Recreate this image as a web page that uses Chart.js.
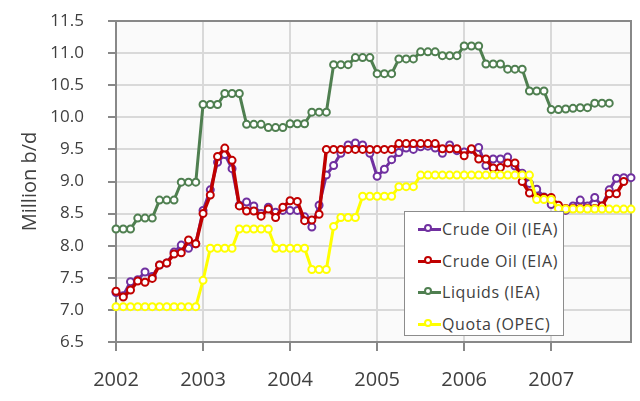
<!DOCTYPE html>
<html>
<head>
<meta charset="utf-8">
<script src="https://cdn.jsdelivr.net/npm/chart.js@4.4.1/dist/chart.umd.min.js"></script>
<style>
  body { margin: 0; background: #fff; }
  #wrap { position: relative; width: 640px; height: 401px; }
  #legend {
    position: absolute; left: 404px; top: 211px; width: 158px; height: 123px;
    background: #fff; border: 1.5px solid #8c8c8c;
    font-family: "Open Sans", sans-serif; font-size: 16px; color: #404040;
    letter-spacing: 0.6px;
  }
  .item { position: absolute; left: 13px; height: 20px; display: flex; align-items: center; white-space: nowrap; }
  .swatch { position: relative; width: 23px; height: 3px; margin-right: 1px; }
  .swatch i {
    position: absolute; left: 6px; top: -4px; width: 8px; height: 8px;
    border-radius: 50%; background: #fff; border: 2px solid; box-sizing: border-box;
  }
</style>
</head>
<body>
<div id="wrap">
  <canvas id="chart" width="640" height="401"></canvas>
  <div id="legend"></div>
</div>
<script>
// monthly, Jan 2002 .. Dec 2007
const years = [2002, 2003, 2004, 2005, 2006, 2007];
const months = [];
years.forEach(y => { for (let m = 1; m <= 12; m++) months.push(y + "-" + m); });

const crudeIEA = [
  7.27, 7.22, 7.44, 7.47, 7.59, 7.52, 7.70, 7.73, 7.90, 8.01, 7.96, 8.03,
  8.55, 8.87, 9.30, 9.42, 9.20, 8.63, 8.68, 8.62, 8.50, 8.60, 8.52, 8.55,
  8.55, 8.55, 8.45, 8.29, 8.63, 9.10, 9.25, 9.44, 9.57, 9.60, 9.57, 9.44,
  9.08, 9.19, 9.34, 9.45, 9.52, 9.50, 9.54, 9.55, 9.52, 9.44, 9.57, 9.48,
  9.46, 9.50, 9.53, 9.25, 9.35, 9.35, 9.38, 9.24, 9.13, 8.97, 8.88, 8.76,
  8.64, 8.60, 8.55, 8.62, 8.71, 8.62, 8.75, 8.62, 8.87, 9.05, 9.06, 9.06
];
const crudeEIA = [
  7.29, 7.20, 7.31, 7.45, 7.43, 7.49, 7.70, 7.73, 7.87, 7.89, 8.09, 8.03,
  8.50, 8.79, 9.39, 9.52, 9.33, 8.62, 8.54, 8.54, 8.46, 8.57, 8.44, 8.60,
  8.70, 8.69, 8.39, 8.40, 8.49, 9.50, 9.50, 9.50, 9.50, 9.50, 9.50, 9.50,
  9.50, 9.50, 9.50, 9.59, 9.59, 9.59, 9.59, 9.59, 9.59, 9.51, 9.51, 9.51,
  9.40, 9.51, 9.35, 9.35, 9.21, 9.22, 9.29, 9.29, 9.00, 8.82, 8.75, 8.75,
  8.75, 8.63, 8.58, 8.58, 8.58, 8.58, 8.58, 8.62, 8.81, 8.81, 9.00, null
];
const liquidsIEA = [
  8.26, 8.26, 8.26, 8.43, 8.43, 8.43, 8.71, 8.71, 8.71, 8.99, 8.99, 8.99,
  10.20, 10.20, 10.20, 10.37, 10.37, 10.37, 9.89, 9.89, 9.89, 9.84, 9.84, 9.84,
  9.90, 9.90, 9.90, 10.08, 10.08, 10.08, 10.82, 10.82, 10.82, 10.93, 10.93, 10.93,
  10.68, 10.68, 10.68, 10.91, 10.91, 10.91, 11.02, 11.02, 11.02, 10.96, 10.96, 10.96,
  11.11, 11.11, 11.11, 10.83, 10.83, 10.83, 10.75, 10.75, 10.75, 10.41, 10.41, 10.41,
  10.12, 10.12, 10.13, 10.14, 10.15, 10.15, 10.22, 10.22, 10.22, null, null, null
];
const quotaOPEC = [
  7.05, 7.05, 7.05, 7.05, 7.05, 7.05, 7.05, 7.05, 7.05, 7.05, 7.05, 7.05,
  7.46, 7.96, 7.96, 7.96, 7.96, 8.26, 8.26, 8.26, 8.26, 8.26, 7.96, 7.96,
  7.96, 7.96, 7.96, 7.63, 7.63, 7.63, 8.30, 8.44, 8.44, 8.44, 8.77, 8.77,
  8.77, 8.77, 8.77, 8.92, 8.92, 8.92, 9.10, 9.10, 9.10, 9.10, 9.10, 9.10,
  9.10, 9.10, 9.10, 9.10, 9.10, 9.10, 9.10, 9.10, 9.10, 9.10, 8.72, 8.72,
  8.72, 8.58, 8.57, 8.57, 8.57, 8.57, 8.57, 8.57, 8.57, 8.57, 8.57, 8.57
];

const seriesNames = ["Crude Oil (IEA)", "Crude Oil (EIA)", "Liquids (IEA)", "Quota (OPEC)"];
const seriesData = [crudeIEA, crudeEIA, liquidsIEA, quotaOPEC];
const seriesColors = ["#7030a0", "#c00000", "#4f7f50", "#ffff00"];

const GRID = "#d9d9d9";
const AXIS = "#888888";
const TXT = "#404040";

// plot background + frame (top/right edge too)
const plotFrame = {
  id: "plotFrame",
  beforeDraw(chart) {
    const { ctx, chartArea: a } = chart;
    ctx.save();
    ctx.fillStyle = "#fafafa";
    ctx.fillRect(a.left, a.top, a.right - a.left, a.bottom - a.top);
    ctx.restore();
  },
  beforeDatasetsDraw(chart) {
    const { ctx, chartArea: a } = chart;
    ctx.save();
    ctx.strokeStyle = AXIS;
    ctx.lineWidth = 2;
    ctx.strokeRect(a.left, a.top, a.right - a.left, a.bottom - a.top);
    ctx.restore();
  }
};

const datasets = seriesNames.map((name, i) => ({
  label: name,
  data: seriesData[i],
  borderColor: seriesColors[i],
  backgroundColor: "#ffffff",
  pointBorderColor: seriesColors[i],
  pointBackgroundColor: "#ffffff",
  borderWidth: i === 1 ? 3.5 : 3,
  pointRadius: 3.5,
  pointBorderWidth: 2,
  tension: 0,
  clip: false,
  order: 4 - i   // later series on top, like the original
}));

new Chart(document.getElementById("chart"), {
  type: "line",
  data: { labels: months, datasets },
  plugins: [plotFrame],
  options: {
    responsive: false,
    animation: false,
    layout: { padding: { top: 21, right: 9, left: 0, bottom: 0 } },
    plugins: { legend: { display: false }, tooltip: { enabled: false } },
    scales: {
      x: {
        type: "category",
        offset: false,
        afterFit(s) { s.height = 59; s.paddingLeft = 0; s.paddingRight = 0; },
        grid: {
          color: c => (c.index % 12 === 0 ? GRID : "transparent"),
          tickColor: c => (c.index % 12 === 0 ? AXIS : "transparent"),
          lineWidth: 2,
          tickLength: 9
        },
        border: { color: AXIS, width: 2 },
        ticks: {
          autoSkip: false,
          maxRotation: 0,
          padding: 17,
          color: TXT,
          font: { family: "Open Sans", size: 20 },
          callback: (v, i) => (i % 12 === 0 ? String(years[i / 12]) : "")
        }
      },
      y: {
        min: 6.5,
        max: 11.5,
        // tick padding would otherwise push the plot top down
        afterFit(s) { s.width = 116; s.paddingTop = 0; s.paddingBottom = 0; },
        grid: { color: GRID, lineWidth: 2, tickColor: AXIS, tickLength: 8 },
        border: { color: AXIS, width: 2 },
        ticks: {
          stepSize: 0.5,
          padding: 24,
          color: TXT,
          font: { family: "Open Sans", size: 17 },
          callback: v => v.toFixed(1)
        },
        title: {
          display: true,
          text: "Million b/d",
          color: TXT,
          font: { family: "Open Sans", size: 20 },
          padding: { top: 18, bottom: 0 }
        }
      }
    }
  }
});

// legend box inside the plot, as in the original
const legend = document.getElementById("legend");
const rowTops = [7, 39, 70, 102];
seriesNames.forEach((name, i) => {
  const row = document.createElement("div");
  row.className = "item";
  row.style.top = rowTops[i] + "px";
  row.innerHTML = `<span class="swatch" style="background:${seriesColors[i]}"><i style="border-color:${seriesColors[i]}"></i></span><span>${name}</span>`;
  legend.appendChild(row);
});
</script>
</body>
</html>
